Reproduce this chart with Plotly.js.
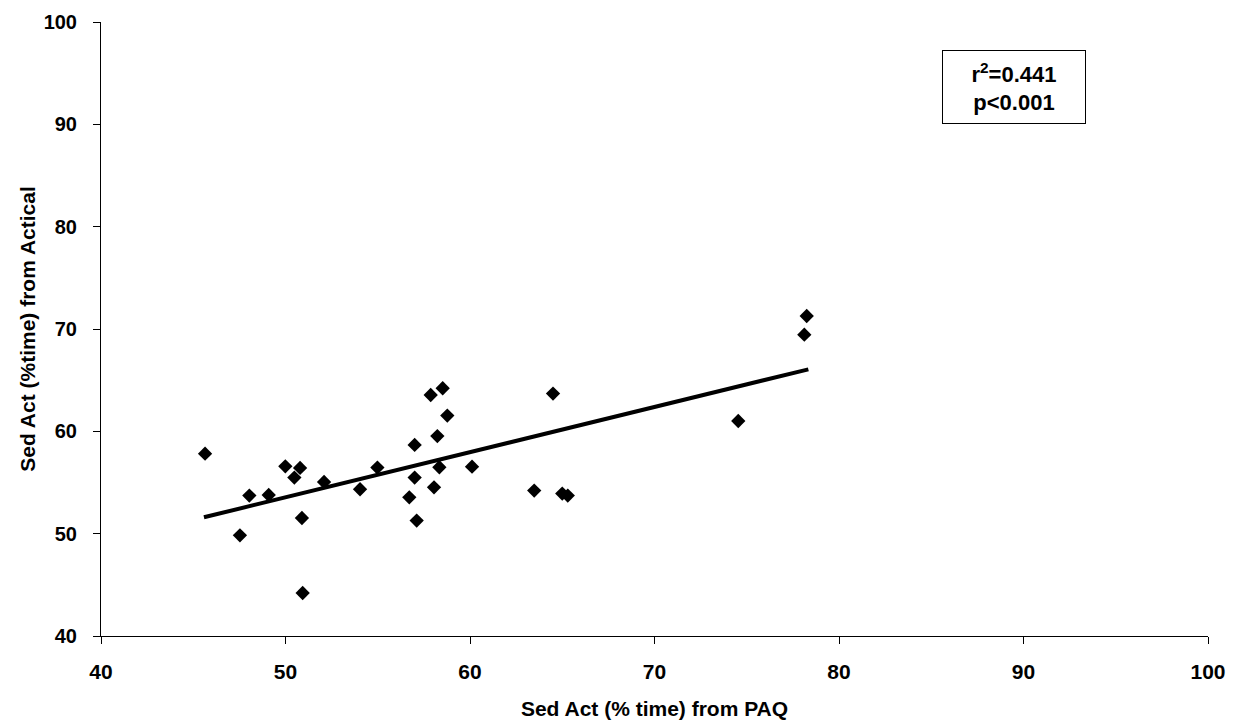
<!DOCTYPE html>
<html>
<head>
<meta charset="utf-8">
<script src="https://cdn.plot.ly/plotly-3.0.1.min.js"></script>
<style>html,body{margin:0;padding:0;background:#fff;}#chart{width:1240px;height:724px;}</style>
</head>
<body>
<div id="chart"></div>
<script>
// Sed Act (% time) from PAQ
const paqX = [45.64, 47.53, 48.04, 49.09, 49.99, 50.79, 50.48, 50.89, 50.93, 52.09,
              54.04, 54.98, 57.0, 57.0, 56.71, 57.11, 57.87, 58.52, 58.77, 58.23,
              58.34, 58.05, 60.11, 64.5, 63.48, 65.0, 65.3, 74.54, 78.25, 78.12];
// Sed Act (% time) from Actical
const acticalY = [57.82, 49.84, 53.72, 53.78, 56.58, 56.42, 55.48, 51.53, 44.2, 55.05,
                  54.34, 56.46, 58.67, 55.48, 53.55, 51.28, 63.55, 64.21, 61.54, 59.54,
                  56.49, 54.53, 56.55, 63.69, 54.21, 53.92, 53.72, 61.01, 71.27, 69.45];
// Regression line endpoints
const fitX = [45.58, 78.34];
const fitY = [51.6, 66.06];
const tickVals = [40, 50, 60, 70, 80, 90, 100];
const statLines = ["r<sup>2</sup>=0.441", "p<0.001"];

const fontFam = "Liberation Sans, Arial, sans-serif";

const data = [
  {x: paqX, y: acticalY, type: 'scatter', mode: 'markers',
   marker: {symbol: 'diamond', size: 11, color: '#000'}, showlegend: false, hoverinfo: 'x+y'},
  {x: fitX, y: fitY, type: 'scatter', mode: 'lines',
   line: {color: '#000', width: 4}, showlegend: false}
];

const axisCommon = {
  showgrid: false, zeroline: false, showline: true, linecolor: '#000', linewidth: 1,
  ticks: 'outside', ticklen: 7, tickcolor: '#000', tickwidth: 1,
  tickvals: tickVals, ticktext: tickVals.map(v => '<b>' + v + '</b>'),
  tickfont: {family: fontFam, size: 20, color: '#000'},
  range: [40, 100], fixedrange: true
};

const layout = {
  width: 1240, height: 724,
  margin: {l: 101, r: 32, t: 22, b: 88},
  paper_bgcolor: '#fff', plot_bgcolor: '#fff',
  font: {family: fontFam, color: '#000'},
  xaxis: Object.assign({}, axisCommon, {
    ticklabelstandoff: 10,
    tickfont: {family: fontFam, size: 21, color: '#000'},
    title: {text: '<b>Sed Act (% time) from PAQ</b>', standoff: 19,
            font: {family: fontFam, size: 21, color: '#000'}}
  }),
  yaxis: Object.assign({}, axisCommon, {
    ticklabelstandoff: 12,
    title: {text: '<b>Sed Act (%time) from Actical</b>', standoff: 2,
            font: {family: fontFam, size: 21, color: '#000'}}
  }),
  annotations: [{
    xref: 'paper', yref: 'paper',
    x: 0.825, y: 0.894,
    xanchor: 'center', yanchor: 'middle',
    text: '<b>' + statLines.join('<br>') + '</b>',
    showarrow: false, align: 'center',
    font: {family: fontFam, size: 22, color: '#000'},
    bordercolor: '#000', borderwidth: 1, borderpad: 4,
    bgcolor: '#fff', width: 134, height: 64
  }]
};

Plotly.newPlot('chart', data, layout, {staticPlot: true, displayModeBar: false});
</script>
</body>
</html>
